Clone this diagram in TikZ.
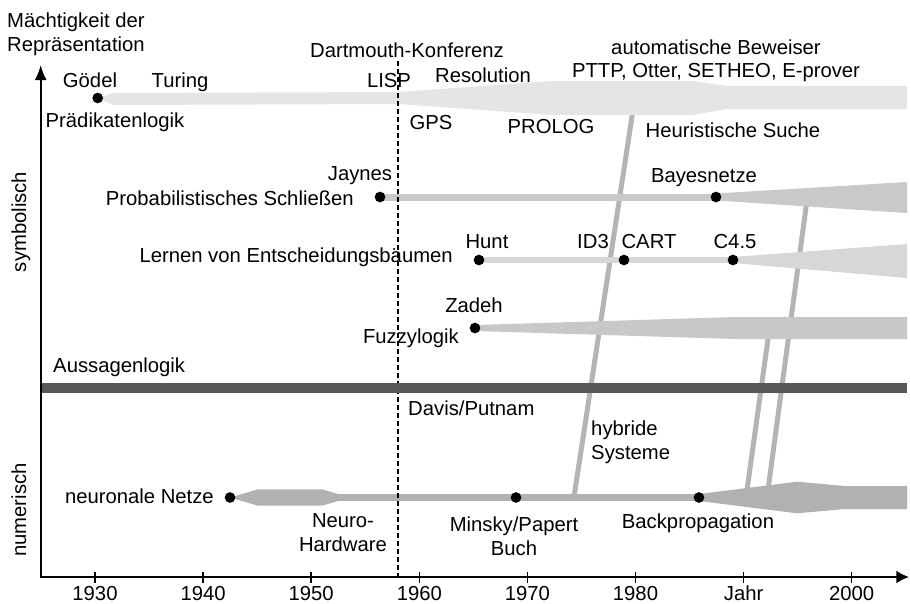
\documentclass[tikz,border=0pt]{standalone}
\usepackage{fontspec}
\setmainfont{Liberation Sans}
\usepackage{xcolor}
\usepackage{tikz}
\usetikzlibrary{arrows.meta}
\usetikzlibrary{backgrounds}
\definecolor{predgray}{HTML}{E5E5E5}
\definecolor{bayesgray}{HTML}{C9C9C9}
\definecolor{dtgray}{HTML}{D7D7D7}
\definecolor{fuzzygray}{HTML}{C8C8C8}
\definecolor{nngray}{HTML}{B1B1B1}
\definecolor{crossgray}{HTML}{B4B4B4}
\definecolor{bargray}{HTML}{575757}
\tikzset{
    dot/.style = {circle, fill=black, inner sep=0pt, minimum size=0.32cm},
    lbl/.style = {inner sep=0pt, anchor=base},
    lblr/.style = {inner sep=0pt, anchor=base east},
    lbll/.style = {inner sep=0pt, anchor=base west},
    lblm/.style = {inner sep=0pt, anchor=north, align=center},
    lblml/.style = {inner sep=0pt, anchor=north west, align=left},
    axisline/.style = {line width=0.06cm, line join=miter, {Latex[length=0.45cm,width=0.36cm]}-{Latex[length=0.38cm,width=0.39cm]}},
    tickline/.style = {line width=0.045cm},
    dashline/.style = {line width=0.045cm, dash pattern=on 0.15cm off 0.09cm},
    crossline/.style = {line width=0.15cm, draw=crossgray},
    probline/.style = {line width=0.21cm, draw=bayesgray},
    dtline/.style = {line width=0.18cm, draw=dtgray},
    nnline/.style = {line width=0.21cm, draw=nngray},
}
\begin{document}
\begin{tikzpicture}[
	x=0.03cm,
	y=-0.03cm,
	font=\fontsize{17.3}{20}\selectfont
]
\useasboundingbox (0,0) rectangle (910,603);
%
\coordinate (o) at (40.7,577);
\coordinate (ytop) at (40.7,65);
\coordinate (xend) at (909,577);
\draw[axisline] (ytop) -- (o) -- (xend);
\foreach \i/\lab in {0/1930,1/1940,2/1950,3/1960,4/1970,5/1980,6/Jahr,7/2000}{
    \draw[tickline] ({95+108.1*\i},572) -- ({95+108.1*\i},583);
    \node[lbl] (t\i) at ({95+108.1*\i},600.5) {\lab};
}
\node[lblml] (taxis) at (7,12.7) {Mächtigkeit der\\Repräsentation};
\node[lbl, rotate=90] (tsym) at (26,222) {symbolisch};
\node[lbl, rotate=90] (tnum) at (26,510) {numerisch};
%
\node[dot] (goedel) at (97.7,98) {};
\node[dot] (jaynes) at (380,197) {};
\node[dot] (bayes) at (716,197) {};
\node[dot] (hunt) at (479,260) {};
\node[dot] (cart) at (624,260) {};
\node[dot] (c45) at (733,260) {};
\node[dot] (zadeh) at (475,328) {};
\node[dot] (neuro) at (230,497.5) {};
\node[dot] (minsky) at (516,497.5) {};
\node[dot] (backprop) at (699,497.5) {};
%
\node[lbl] (tdart) at (407,57) {Dartmouth-Konferenz};
\node[lbl] (tgoedel) at (90,87) {Gödel};
\node[lbl] (tturing) at (180,87) {Turing};
\node[lbl] (tlisp) at (389,87) {LISP};
\node[lbl] (tres) at (483,82) {Resolution};
\node[lbl] (tauto) at (716,54) {automatische Beweiser};
\node[lbl] (tpttp) at (716,77.5) {PTTP, Otter, SETHEO, E-prover};
\node[lbl] (tpred) at (115,127) {Prädikatenlogik};
\node[lbl] (tgps) at (431,129) {GPS};
\node[lbl] (tprolog) at (551,133) {PROLOG};
\node[lbl] (theur) at (733,137) {Heuristische Suche};
%
\node[lbl] (tjaynes) at (360,180) {Jaynes};
\node[lblr] (tprob) at (354,205) {Probabilistisches Schließen};
\node[lbl] (tbayes) at (704,182) {Bayesnetze};
\node[lbl] (thunt) at (487,248) {Hunt};
\node[lbl] (tid3) at (593,248) {ID3};
\node[lbl] (tcart) at (649,248) {CART};
\node[lbl] (tc45) at (735,248) {C4.5};
\node[lblr] (tdt) at (453,262) {Lernen von Entscheidungsbäumen};
\node[lbl] (tzadeh) at (474,312) {Zadeh};
\node[lblr] (tfuzzy) at (459,343) {Fuzzylogik};
%
\node[lbll] (taussagen) at (53,372) {Aussagenlogik};
\node[lbll] (tdavis) at (408,415) {Davis/Putnam};
\node[lblml] (thybrid) at (591,420.7) {hybride\\Systeme};
\node[lblr] (tnn) at (214,503) {neuronale Netze};
\node[lblm] (tneurohw) at (343,513.7) {Neuro-\\Hardware};
\node[lblm] (tminsky) at (514,516.7) {Minsky/Papert\\Buch};
\node[lbl] (tbackprop) at (698,528) {Backpropagation};
%
\begin{pgfonlayer}{background}
\coordinate (h1) at (633,110);
\coordinate (h2) at (574,497);
\coordinate (r1) at (807,200);
\coordinate (r2) at (768,490);
\coordinate (l1) at (769,332);
\coordinate (l2) at (747,490);
\draw[crossline] (h1) -- (h2);
\draw[crossline] (r1) -- (r2);
\draw[crossline] (l1) -- (l2);
% Praedikatenlogik
\fill[predgray] (goedel.center) -- (113,93) -- (398,92) -- (553,81) -- (693,81) -- (727,86) -- (907,86)
    -- (907,109) -- (727,109) -- (693,115) -- (553,115) -- (398,104) -- (113,105) -- cycle;
% Probabilistik
\draw[probline] (jaynes.center) -- (bayes.center);
\fill[bayesgray] (716,193.5) -- (907,182) -- (907,213) -- (716,200.5) -- cycle;
% Entscheidungsbaeume
\draw[dtline] (hunt.center) -- (cart.center) -- (c45.center);
\fill[dtgray] (733,257) -- (907,244) -- (907,278) -- (733,263) -- cycle;
% Fuzzy
\fill[fuzzygray] (475,325) -- (735,317) -- (907,317) -- (907,339) -- (735,339) -- (475,331) -- cycle;
% neuronale Netze
\coordinate (nn1) at (336,497.5);
\fill[nngray] (neuro.center) -- (258,489.3) -- (322,489.3) -- (338,494) -- (338,501) -- (322,505.7) -- (258,505.7) -- cycle;
\draw[nnline] (nn1) -- (minsky.center) -- (backprop.center);
\fill[nngray] (699,494) -- (797,481.7) -- (845,486) -- (907,486) -- (907,509) -- (845,509) -- (797,513.3) -- (699,501) -- cycle;
% Dartmouth
\coordinate (d1) at (398,61);
\coordinate (d2) at (398,577);
\draw[dashline] (d1) -- (d2);
% Aussagenlogik
\fill[bargray] (42,383) rectangle (907,393);
\end{pgfonlayer}
\end{tikzpicture}
\end{document}
